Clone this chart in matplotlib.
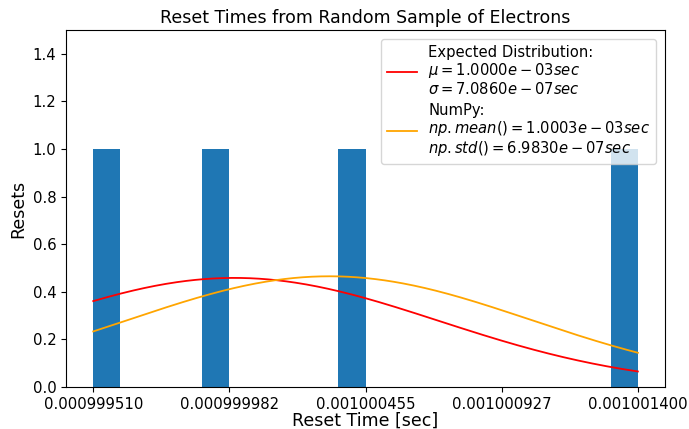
import numpy as np
import matplotlib
matplotlib.use("Agg")
import matplotlib.pyplot as plt

# Data
reset_times = [0.00099951, 0.00099998, 0.00100043, 0.00100140]
n_bins = 20
expected_mu = 1.0e-3
expected_sigma = 7.086e-7
curve_scale = 8.14e-7  # scaling applied to the normal pdf curves
tick_labels = ["0.000999510", "0.000999982", "0.001000455", "0.001000927", "0.001001400"]
label_expected = ("Expected Distribution:\n$\\mu = 1.0000e-03 sec$\n"
                  "$\\sigma = 7.0860e-07 sec$")
label_numpy = ("NumPy:\n$np.mean() = 1.0003e-03 sec$\n"
               "$np.std() = 6.9830e-07 sec$")

data = np.array(reset_times)
np_mu = np.mean(data)
np_sigma = np.std(data)

fig = plt.figure(figsize=(6.89, 4.29), dpi=100)
ax = fig.add_axes([0.0958, 0.098, 0.8695, 0.832])

ax.hist(data, bins=n_bins, color="#1f77b4")

x = np.linspace(data.min(), data.max(), 300)

def pdf(x, mu, s):
    return np.exp(-0.5 * ((x - mu) / s) ** 2) / (s * np.sqrt(2 * np.pi))

ax.plot(x, pdf(x, expected_mu, expected_sigma) * curve_scale, color="red",
        lw=1.3, label=label_expected)
ax.plot(x, pdf(x, np_mu, np_sigma) * curve_scale, color="orange",
        lw=1.3, label=label_numpy)

ax.set_ylim(0, 1.5)
ax.set_yticks(np.arange(0, 1.41, 0.2))
ax.set_xticks(np.linspace(data.min(), data.max(), 5))
ax.set_xticklabels(tick_labels)
ax.tick_params(labelsize=10.7)

ax.set_title("Reset Times from Random Sample of Electrons", fontsize=12.5, pad=5)
ax.set_xlabel("Reset Time [sec]", fontsize=12.5, labelpad=0)
ax.set_ylabel("Resets", fontsize=12.5)
leg = ax.legend(loc="upper right", fontsize=10.6, labelspacing=0.35,
                borderaxespad=0.6)
for t in leg.get_texts():
    t.set_linespacing(1.1)

fig.savefig("out.png", dpi=100)
